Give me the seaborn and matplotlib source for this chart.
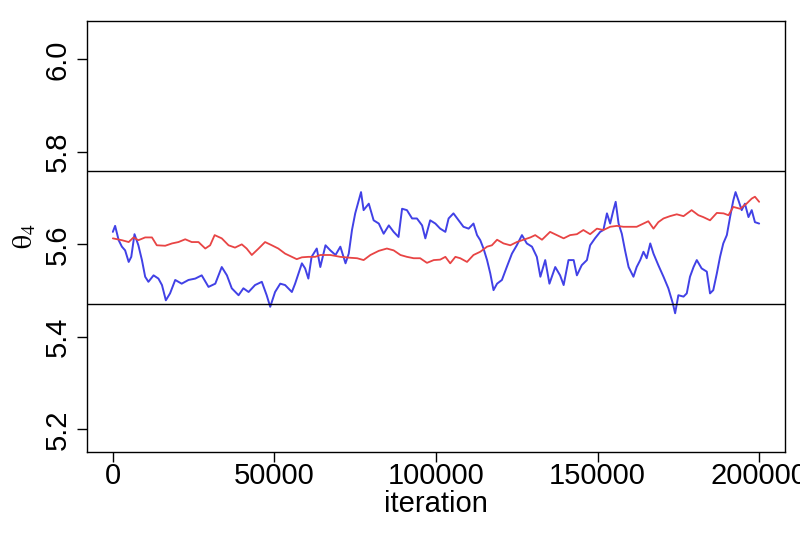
import matplotlib
matplotlib.use("Agg")
import matplotlib.pyplot as plt
import seaborn as sns
import pandas as pd

# chain 1 (blue)
blue_iter = [0, 700, 1800, 2800, 3800, 4900, 5700, 6700, 7900, 9000,
             10000, 11000, 12600, 14100, 15200, 16400, 17700, 19300, 21300, 23400,
             25500, 27500, 29600, 31700, 33700, 35300, 36800, 38900, 40400, 42000,
             44000, 46100, 47600, 48700, 50200, 51800, 53300, 55400, 56400, 58500,
             59500, 60500, 61500, 63100,
             64200, 65800, 67300, 68900, 70400, 72000, 73000, 74000, 75000, 76100,
             76800, 77600, 79200, 80700, 82300, 83800, 85400, 86900, 88400, 89500,
             91000, 92600, 94100, 95700, 96700, 98200, 99800, 101300, 102900, 103900,
             105400, 107000, 108500, 110100, 111600, 112700, 113700, 114700, 115800, 116800,
             117800, 118900, 120400, 121900, 123500, 125000, 126600, 128100, 129700, 131200,
             132300, 133800, 135100,
             136900, 138400, 139500, 141000, 142600, 143600, 145100, 146700, 147700, 149200,
             150800, 151800, 152900, 153900, 154900, 155600, 156500, 157500, 158500, 159600,
             161100, 162100, 163200, 164200, 165200, 166300, 167300, 168800, 170400, 171900,
             173300, 174000, 175000, 176600, 177600, 178600, 179700, 180700, 182200, 183800,
             184800, 185800, 186900, 187900, 188900, 190000, 191000, 192000, 192700, 193600,
             194600, 195600, 196700, 197700, 198700, 200000]
blue_val = [5.627, 5.640, 5.609, 5.595, 5.587, 5.562, 5.573, 5.622, 5.598, 5.566,
            5.530, 5.519, 5.533, 5.526, 5.512, 5.479, 5.494, 5.523, 5.515, 5.523,
            5.526, 5.533, 5.508, 5.515, 5.551, 5.533, 5.505, 5.490, 5.505, 5.497,
            5.512, 5.519, 5.490, 5.465, 5.497, 5.515, 5.512, 5.497, 5.515, 5.559,
            5.548, 5.526, 5.573, 5.591,
            5.551, 5.598, 5.587, 5.577, 5.595, 5.559, 5.580, 5.631, 5.667, 5.695,
            5.713, 5.674, 5.688, 5.652, 5.645, 5.623, 5.641, 5.627, 5.616, 5.677,
            5.674, 5.656, 5.656, 5.641, 5.613, 5.652, 5.645, 5.634, 5.627, 5.656,
            5.667, 5.652, 5.638, 5.634, 5.645, 5.620, 5.609, 5.591, 5.566, 5.537,
            5.501, 5.515, 5.523, 5.551, 5.580, 5.598, 5.620, 5.602, 5.595, 5.573,
            5.530, 5.566, 5.515,
            5.551, 5.533, 5.512, 5.566, 5.566, 5.533, 5.555, 5.566, 5.598, 5.613,
            5.627, 5.631, 5.667, 5.645, 5.674, 5.692, 5.645, 5.623, 5.587, 5.551,
            5.530, 5.551, 5.566, 5.584, 5.570, 5.602, 5.580, 5.555, 5.530, 5.505,
            5.472, 5.451, 5.490, 5.487, 5.494, 5.530, 5.551, 5.566, 5.548, 5.541,
            5.494, 5.501, 5.537, 5.573, 5.602, 5.620, 5.659, 5.695, 5.713, 5.695,
            5.674, 5.688, 5.659, 5.674, 5.648, 5.645]

# chain 2 (red)
red_iter = [0, 2800, 4900, 6400, 7900, 10000, 12100, 13600, 16200, 18300,
            20300, 22400, 24400, 26500, 28600, 30100, 31500, 33700, 35800, 37800,
            39900, 41400, 43000, 45100, 47100, 49200, 51200, 53300, 55400, 56900,
            58500, 60500, 62600,
            64200, 67300, 70400, 73500, 75600, 77600, 79700, 82300, 84800, 86900,
            89000, 91000, 93100, 95100, 97200, 99300, 101300, 102900, 104400, 106000,
            107500, 109600, 111600, 113700, 115800, 117300, 118900, 120900, 123000, 125000,
            127100, 129200, 130700, 132800,
            135300, 137400, 139500, 141500, 143600, 145600, 147700, 149800, 151800, 153900,
            156000, 158000, 160100, 162100, 164200, 165700, 167300, 168800, 170400, 172400,
            174500, 176600, 179100, 181200, 182700, 184800, 186900, 189000, 190500, 192000,
            194100, 196100, 197700, 198700, 200000]
red_val = [5.613, 5.609, 5.605, 5.615, 5.609, 5.615, 5.615, 5.598, 5.597, 5.602,
           5.605, 5.611, 5.605, 5.605, 5.591, 5.598, 5.620, 5.613, 5.598, 5.593,
           5.600, 5.591, 5.577, 5.591, 5.605, 5.598, 5.591, 5.580, 5.573, 5.568,
           5.572, 5.573, 5.573,
           5.577, 5.577, 5.573, 5.571, 5.570, 5.566, 5.577, 5.586, 5.591, 5.587,
           5.577, 5.573, 5.570, 5.570, 5.560, 5.566, 5.567, 5.573, 5.559, 5.573,
           5.570, 5.562, 5.577, 5.584, 5.595, 5.598, 5.610, 5.602, 5.598, 5.605,
           5.610, 5.615, 5.620, 5.610,
           5.627, 5.620, 5.613, 5.620, 5.622, 5.631, 5.622, 5.634, 5.631, 5.638,
           5.640, 5.638, 5.638, 5.638, 5.645, 5.650, 5.634, 5.648, 5.656, 5.661,
           5.665, 5.661, 5.674, 5.663, 5.659, 5.652, 5.668, 5.667, 5.663, 5.681,
           5.677, 5.688, 5.699, 5.703, 5.692]

# reference band
band = [5.470, 5.758]

x_ticks = [0, 50000, 100000, 150000, 200000]
y_ticks = [5.2, 5.4, 5.6, 5.8, 6.0]

blue_df = pd.DataFrame({"iteration": blue_iter, "theta": blue_val})
red_df = pd.DataFrame({"iteration": red_iter, "theta": red_val})

sns.set_style("ticks")
plt.rcParams["font.family"] = ["Liberation Sans", "DejaVu Sans"]
plt.rcParams["mathtext.fontset"] = "stix"

fig = plt.figure(figsize=(8, 5.33), dpi=100)
ax = fig.add_axes([87 / 800, 1 - 452 / 533, (785 - 87) / 800, (452 - 21) / 533])

sns.lineplot(data=blue_df, x="iteration", y="theta", color="#4141e6",
             linewidth=1.4, sort=False, estimator=None, ax=ax)
sns.lineplot(data=red_df, x="iteration", y="theta", color="#e84444",
             linewidth=1.3, sort=False, estimator=None, ax=ax)

for b in band:
    ax.axhline(b, color="black", linewidth=1)

ax.set_xlim(-8000, 208000)
ax.set_ylim(5.151, 6.083)
ax.set_xticks(x_ticks)
ax.set_xticklabels([str(t) for t in x_ticks])
ax.set_yticks(y_ticks)
ax.set_yticklabels([f"{t:.1f}" for t in y_ticks], rotation=90, va="center")

for s in ax.spines.values():
    s.set_visible(True)
    s.set_color("black")
    s.set_linewidth(1)

ax.tick_params(axis="both", direction="out", length=7, width=1,
               labelsize=21, colors="black")
ax.tick_params(axis="x", pad=0)
ax.tick_params(axis="y", pad=4)

ax.set_xlabel("iteration", fontsize=21, labelpad=0, color="black")
ax.set_ylabel(r"$\mathrm{\theta}_4$", fontsize=20, labelpad=4, color="black")

fig.savefig("out.png", dpi=100)
